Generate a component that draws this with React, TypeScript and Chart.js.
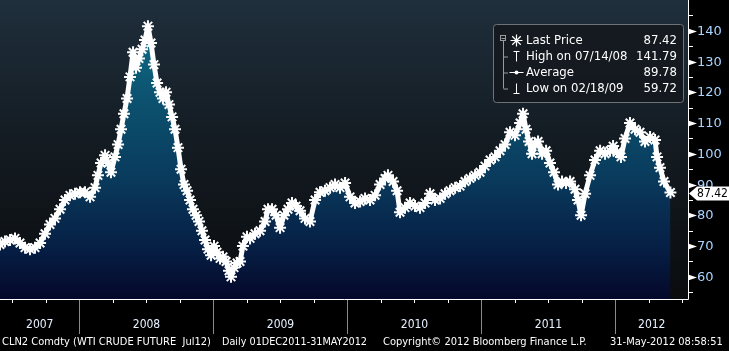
import React, { useEffect, useRef } from "react";
import { Chart, registerables } from "chart.js";
Chart.register(...registerables);

// decimal-year dates and prices
const dates = [
  2007.41, 2007.447, 2007.485, 2007.522, 2007.559, 2007.597, 2007.634, 2007.671, 2007.709, 2007.746,
  2007.783, 2007.82, 2007.858, 2007.895, 2007.932, 2007.97, 2008.007, 2008.044, 2008.082, 2008.119,
  2008.141, 2008.164, 2008.194, 2008.216, 2008.238, 2008.268, 2008.291, 2008.313, 2008.335, 2008.358,
  2008.38, 2008.403, 2008.425, 2008.447, 2008.47, 2008.492, 2008.514, 2008.537, 2008.559, 2008.582,
  2008.604, 2008.626, 2008.649, 2008.671, 2008.694, 2008.716, 2008.738, 2008.761, 2008.783, 2008.806,
  2008.828, 2008.85, 2008.873, 2008.895, 2008.917, 2008.94, 2008.962, 2008.985, 2009.007, 2009.029,
  2009.052, 2009.074, 2009.097, 2009.119, 2009.134, 2009.156, 2009.179, 2009.201, 2009.223, 2009.253,
  2009.276, 2009.313, 2009.35, 2009.388, 2009.41, 2009.44, 2009.47, 2009.5, 2009.529, 2009.559,
  2009.589, 2009.619, 2009.649, 2009.686, 2009.723, 2009.761, 2009.798, 2009.835, 2009.873, 2009.91,
  2009.947, 2009.985, 2010.022, 2010.059, 2010.097, 2010.134, 2010.171, 2010.209, 2010.246, 2010.283,
  2010.305, 2010.343, 2010.373, 2010.395, 2010.432, 2010.47, 2010.507, 2010.544, 2010.582, 2010.619,
  2010.656, 2010.694, 2010.731, 2010.768, 2010.806, 2010.843, 2010.88, 2010.917, 2010.955, 2010.992,
  2011.029, 2011.067, 2011.104, 2011.141, 2011.179, 2011.216, 2011.253, 2011.291, 2011.313, 2011.335,
  2011.358, 2011.38, 2011.403, 2011.425, 2011.455, 2011.485, 2011.514, 2011.544, 2011.574, 2011.604,
  2011.634, 2011.664, 2011.701, 2011.723, 2011.746, 2011.776, 2011.813, 2011.85, 2011.888, 2011.925,
  2011.962, 2011.985, 2012.014, 2012.044, 2012.074, 2012.111, 2012.149, 2012.186, 2012.223, 2012.261,
  2012.298, 2012.313, 2012.335, 2012.365, 2012.413,
];
const prices = [
  70.5, 71.5, 72, 72.5, 71, 69.5, 69, 69.5, 71, 74,
  77, 79, 82, 85, 86.5, 87, 87.5, 87.5, 86, 89,
  93, 97, 99.5, 97, 94, 99, 103, 108, 113, 118,
  125, 133, 128, 131, 134, 137, 141.5, 136, 129, 123,
  120, 118, 120, 116, 112, 108, 102, 95, 90, 88,
  85, 82, 80, 78, 75, 72, 69, 67, 70, 68,
  66, 66.5, 65, 62, 60, 63, 64.5, 65, 70, 73,
  72.5, 74, 75, 78, 82, 82, 80, 76, 80, 82,
  84, 83, 81.5, 79, 78, 85, 87.5, 88, 89, 90,
  89, 90.5, 86, 84, 84.5, 85.5, 85, 86.5, 90, 92,
  93, 91, 88, 81, 82.5, 84, 83, 82.5, 84, 87,
  85, 85.5, 87, 88, 89, 89.5, 91, 92, 93, 94,
  96, 98, 99, 101, 103, 107, 106, 110, 113, 108,
  104, 100, 103, 104, 100, 101, 97, 94, 90, 91,
  90.5, 91, 88.5, 85, 80, 87, 93, 98, 101, 100,
  101, 102.5, 100.5, 99, 105, 110, 108, 107, 104, 105.5,
  104.5, 99, 95.5, 91, 87.42,
];

const yearLabels = ["2007", "2008", "2009", "2010", "2011", "2012"];
const yearStarts = [2008, 2009, 2010, 2011, 2012];
const quarterTicks = [
  2007.5, 2007.75, 2008.25, 2008.5, 2008.75, 2009.25, 2009.5, 2009.75,
  2010.25, 2010.5, 2010.75, 2011.25, 2011.5, 2011.75, 2012.25, 2012.5,
];
const yTicks = [55, 60, 65, 70, 75, 80, 85, 90, 95, 100, 105, 110, 115, 120, 125, 130, 135, 140, 145];
const legendLabels = ["Last Price", "High on 07/14/08", "Average", "Low on 02/18/09"];
const legendValues = ["87.42", "141.79", "89.78", "59.72"];
const lastPriceLabel = "87.42";
const lastPrice = 87.42;
const footerParts = [
  "CLN2 Comdty (WTI CRUDE FUTURE  Jul12)",
  "Daily 01DEC2011-31MAY2012",
  "Copyright\u00A9 2012 Bloomberg Finance L.P.",
  "31-May-2012 08:58:51",
];
const X_MIN = 2007.41;
const X_MAX = 2012.544;
const Y_MIN = 52.8;
const Y_MAX = 150;

const FONT = '"DejaVu Sans", "Liberation Sans", sans-serif';
const FONT_C = '"DejaVu Sans Condensed", "DejaVu Sans", sans-serif';

const decorPlugin = {
  id: "decor",
  beforeDraw(chart: any) {
    const { ctx, chartArea: a, width, height } = chart;
    ctx.save();
    ctx.fillStyle = "#000";
    ctx.fillRect(0, 0, width, height);
    const g = ctx.createLinearGradient(0, a.top, 0, a.bottom);
    g.addColorStop(0, "#1f2f3c");
    g.addColorStop(0.45, "#141c23");
    g.addColorStop(1, "#0a0c0e");
    ctx.fillStyle = g;
    ctx.fillRect(a.left, a.top, a.right - a.left, a.bottom - a.top);
    ctx.restore();
  },
  afterDraw(chart: any) {
    const { ctx, chartArea: a } = chart;
    const xs = chart.scales.x;
    const ys = chart.scales.y;
    ctx.save();
    // axis lines
    ctx.strokeStyle = "#ffffff";
    ctx.lineWidth = 1;
    ctx.beginPath();
    ctx.moveTo(a.left, a.bottom + 0.5);
    ctx.lineTo(a.right + 0.5, a.bottom + 0.5);
    ctx.lineTo(a.right + 0.5, a.top);
    ctx.stroke();
    // y ticks + labels
    ctx.fillStyle = "#ffffff";
    ctx.font = "13px " + FONT;
    ctx.textBaseline = "middle";
    ctx.textAlign = "left";
    for (const v of yTicks) {
      const y = Math.round(ys.getPixelForValue(v)) + 0.5;
      if (v % 10 === 0) {
        ctx.fillStyle = "#ffffff";
        ctx.beginPath();
        ctx.moveTo(a.right, y - 3);
        ctx.lineTo(a.right + 9, y);
        ctx.lineTo(a.right, y + 3);
        ctx.closePath();
        ctx.fill();
        ctx.fillStyle = "#a9d4ff";
        ctx.fillText(String(v), a.right + 9, y + 0.5);
      } else {
        ctx.beginPath();
        ctx.moveTo(a.right, y);
        ctx.lineTo(a.right + 5, y);
        ctx.stroke();
      }
    }
    // x quarter ticks
    for (const q of quarterTicks) {
      const x = Math.round(xs.getPixelForValue(q)) + 0.5;
      if (x > a.right) continue;
      ctx.beginPath();
      ctx.moveTo(x, a.bottom);
      ctx.lineTo(x, a.bottom + 4);
      ctx.stroke();
    }
    // year separators
    ctx.strokeStyle = "#8a8a8a";
    const bounds = [a.left];
    for (const ys0 of yearStarts) {
      const x = Math.round(xs.getPixelForValue(ys0)) + 0.5;
      bounds.push(x);
      ctx.beginPath();
      ctx.moveTo(x, a.bottom + 1);
      ctx.lineTo(x, a.bottom + 35);
      ctx.stroke();
    }
    bounds.push(a.right);
    // year labels
    ctx.font = "12px " + FONT_C;
    ctx.fillStyle = "#e8f2ff";
    ctx.textAlign = "center";
    ctx.textBaseline = "middle";
    yearLabels.forEach((lab, i) => {
      ctx.fillText(lab, (bounds[i] + bounds[i + 1]) / 2, a.bottom + 26);
    });
    // footer
    ctx.font = "11px " + FONT_C;
    ctx.fillStyle = "#ffffff";
    ctx.textAlign = "left";
    const fx = [2, 222, 383, 610];
    const fw = [210, 145, 208, 117];
    footerParts.forEach((t, i) => ctx.fillText(t, fx[i], a.bottom + 43, fw[i]));

    // legend box
    const bx = 493, by = 24, bw = 190, bh = 78;
    ctx.fillStyle = "rgba(20,25,31,0.95)";
    ctx.strokeStyle = "#6e7378";
    ctx.beginPath();
    ctx.roundRect(bx + 0.5, by + 0.5, bw, bh, 3);
    ctx.fill();
    ctx.stroke();
    const rows = [40.5, 56.5, 72.5, 88.5];
    // tree
    ctx.strokeStyle = "#9a9a9a";
    ctx.strokeRect(500.5, 35.5, 5, 5);
    ctx.beginPath();
    ctx.moveTo(501.5, 38.5); ctx.lineTo(505, 38.5);
    ctx.moveTo(503.5, 41); ctx.lineTo(503.5, rows[3]);
    for (let i = 1; i < 4; i++) { ctx.moveTo(503.5, rows[i] + 0.5); ctx.lineTo(508, rows[i] + 0.5); }
    ctx.stroke();
    // icons
    ctx.strokeStyle = "#ffffff";
    ctx.lineWidth = 1.2;
    const cx = 516.5;
    ctx.beginPath();
    for (let k = 0; k < 4; k++) {
      const ang = (k * Math.PI) / 4;
      ctx.moveTo(cx - 6 * Math.cos(ang), rows[0] - 6 * Math.sin(ang));
      ctx.lineTo(cx + 6 * Math.cos(ang), rows[0] + 6 * Math.sin(ang));
    }
    ctx.stroke();
    ctx.lineWidth = 1;
    ctx.beginPath();
    ctx.moveTo(cx - 3, rows[1] - 5); ctx.lineTo(cx + 3, rows[1] - 5);
    ctx.moveTo(cx, rows[1] - 5); ctx.lineTo(cx, rows[1] + 5);
    ctx.moveTo(cx - 7, rows[2]); ctx.lineTo(cx + 7, rows[2]);
    ctx.moveTo(cx, rows[3] - 5); ctx.lineTo(cx, rows[3] + 5);
    ctx.moveTo(cx - 3, rows[3] + 5); ctx.lineTo(cx + 3, rows[3] + 5);
    ctx.stroke();
    ctx.fillStyle = "#ffffff";
    ctx.beginPath();
    ctx.arc(cx, rows[2], 2, 0, Math.PI * 2);
    ctx.fill();
    ctx.font = "13px " + FONT_C;
    ctx.textBaseline = "middle";
    legendLabels.forEach((t, i) => {
      ctx.textAlign = "left";
      ctx.fillText(t, 526, rows[i], 108);
      ctx.textAlign = "right";
      ctx.fillText(legendValues[i], 677, rows[i]);
    });

    // last price tag
    const ly = Math.round(ys.getPixelForValue(lastPrice)) + 0.5;
    ctx.fillStyle = "#ffffff";
    ctx.beginPath();
    ctx.moveTo(a.right + 1, ly);
    ctx.lineTo(a.right + 9, ly - 7);
    ctx.lineTo(729, ly - 7);
    ctx.lineTo(729, ly + 7);
    ctx.lineTo(a.right + 9, ly + 7);
    ctx.closePath();
    ctx.fill();
    ctx.fillStyle = "#000000";
    ctx.font = "13px " + FONT;
    ctx.textAlign = "left";
    ctx.fillText(lastPriceLabel, a.right + 9, ly + 0.5, 31);
    ctx.restore();
  },
};

export default function App() {
  const ref = useRef<HTMLCanvasElement | null>(null);
  useEffect(() => {
    document.body.style.margin = "0";
    document.body.style.background = "#000";
    const canvas = ref.current!;
    const chart = new Chart(canvas, {
      type: "line",
      data: {
        datasets: [
          {
            data: dates.map((d, i) => ({ x: d, y: prices[i] })),
            borderColor: "#ffffff",
            borderWidth: 5,
            borderJoinStyle: "round",
            pointStyle: "star",
            pointRadius: 6,
            pointBorderColor: "#ffffff",
            pointBackgroundColor: "#ffffff",
            pointBorderWidth: 2,
            fill: "start",
            tension: 0,
            backgroundColor: (c: any) => {
              const a = c.chart.chartArea;
              if (!a) return "#0a3a5a";
              const g = c.chart.ctx.createLinearGradient(0, a.top, 0, a.bottom);
              g.addColorStop(0, "#11788f");
              g.addColorStop(0.3, "#0c5572");
              g.addColorStop(0.6, "#093a5c");
              g.addColorStop(0.85, "#061c42");
              g.addColorStop(1, "#04082a");
              return g;
            },
          },
        ],
      },
      options: {
        animation: false,
        responsive: false,
        devicePixelRatio: 1,
        layout: { autoPadding: false, padding: { left: 0, top: 0, right: 41, bottom: 52 } },
        plugins: { legend: { display: false }, tooltip: { enabled: false } },
        scales: {
          x: { type: "linear", display: false, min: X_MIN, max: X_MAX },
          y: { type: "linear", display: false, min: Y_MIN, max: Y_MAX },
        },
      },
      plugins: [decorPlugin],
    });
    return () => chart.destroy();
  }, []);
  return (
    <div style={{ width: 729, height: 351, background: "#000" }}>
      <canvas ref={ref} width={729} height={351} style={{ display: "block" }} />
    </div>
  );
}
